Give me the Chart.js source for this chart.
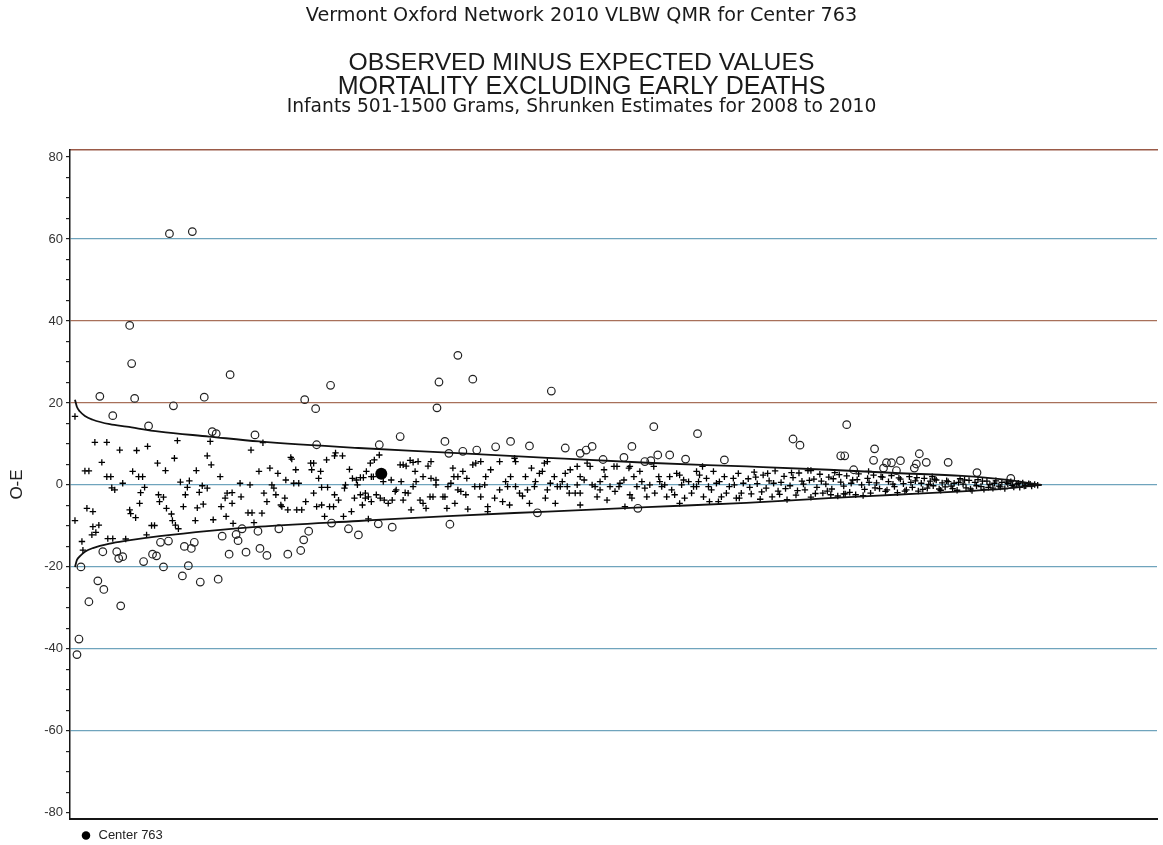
<!DOCTYPE html>
<html>
<head>
<meta charset="utf-8">
<title>Observed minus expected values</title>
<script src="https://cdn.jsdelivr.net/npm/chart.js@4.4.1/dist/chart.umd.min.js"></script>
<style>
  html, body { margin: 0; padding: 0; background: #fff; }
  #wrap { position: relative; width: 1163px; height: 845px; }
</style>
</head>
<body>
<div id="wrap"><canvas id="oeChart"></canvas></div>
<script>
// header text
const titleLines = [
  "Vermont Oxford Network 2010 VLBW QMR for Center 763",
  "OBSERVED MINUS EXPECTED VALUES",
  "MORTALITY EXCLUDING EARLY DEATHS",
  "Infants 501-1500 Grams, Shrunken Estimates for 2008 to 2010",
];
const yAxisTitle = "O-E";
const yLabelTicks = [80, 60, 40, 20, 0, -20, -40, -60, -80];

// our center
const centerX = [31.3];
const centerY = [2.7];

// 99% limits (funnel)
const funnelX = [0.5, 0.7, 1.0, 1.5, 2.3, 4.0, 5.7, 9.0, 14.0, 19.0, 29.0, 38.0, 48.0, 58.0, 68.0, 76.3, 83.0, 89.7, 94.0, 97.7];
const funnelUpper = [20.8, 19.0, 17.9, 16.8, 15.9, 14.8, 14.2, 13.0, 11.8, 10.6, 9.0, 7.9, 6.6, 5.4, 4.5, 3.7, 2.9, 2.2, 1.3, 0];
const funnelLower = [-20.0, -18.3, -17.4, -16.3, -15.4, -14.3, -13.6, -12.5, -11.2, -10.2, -8.8, -7.6, -6.5, -5.4, -4.4, -3.2, -2.4, -1.6, -0.9, 0];

// centers outside the limits (open circles)
const outsidePts = [
  [10.0,61.3],[12.3,61.8],[6.0,38.9],[6.2,29.6],[6.5,21.1],[3.0,21.6],[4.3,16.9],[7.9,14.4],[10.4,19.3],[13.5,21.4],
  [16.1,26.9],[14.3,13.0],[14.7,12.5],[18.6,12.2],[23.6,20.8],[24.7,18.6],[26.2,24.3],[24.8,9.8],[31.1,9.8],[33.2,11.8],
  [39.0,31.6],[37.1,25.1],[40.5,25.8],[36.9,18.8],[48.4,22.9],[37.7,10.6],[38.1,7.7],[39.5,8.2],[40.9,8.5],[42.8,9.3],
  [44.3,10.6],[46.2,9.5],[49.8,9.0],[51.3,7.7],[51.9,8.5],[52.5,9.4],[53.6,6.2],[55.7,6.7],[56.5,9.4],[58.7,14.2],
  [57.8,5.7],[58.4,5.9],[59.1,7.3],[60.3,7.3],[61.9,6.3],[63.1,12.5],[65.8,6.1],[72.7,11.2],[73.4,9.7],[78.1,14.7],
  [77.5,7.1],[77.9,7.1],[80.9,8.8],[80.8,6.0],[82.1,5.4],[82.6,5.4],[83.5,5.9],[85.4,7.6],[85.1,5.1],[84.9,4.1],
  [86.1,5.5],[88.3,5.5],[91.2,3.0],[94.6,1.6],[78.8,3.7],[81.8,4.1],[83.1,3.5],
  [1.1,-20.0],[0.7,-41.4],[0.9,-37.6],[1.9,-28.5],[2.8,-23.4],[3.4,-25.5],[3.3,-16.3],[4.7,-16.3],[4.9,-17.9],
  [5.3,-17.5],[5.1,-29.5],[7.4,-18.7],[8.3,-16.9],[8.7,-17.3],[9.1,-14.0],[9.9,-13.7],[9.4,-20.0],[11.3,-22.2],[11.5,-15.0],
  [12.2,-15.5],[12.5,-14.0],[11.9,-19.7],[13.1,-23.7],[14.9,-23.0],[15.3,-12.5],[16.0,-16.9],[16.7,-12.1],[16.9,-13.6],[17.3,-10.7],
  [17.7,-16.4],[18.9,-11.3],[19.1,-15.5],[19.8,-17.2],[21.0,-10.7],[21.9,-16.9],[23.2,-16.0],[23.5,-13.4],[24.0,-11.3],[26.3,-9.3],
  [28.0,-10.7],[29.0,-12.2],[31.0,-9.5],[32.4,-10.3],[38.2,-9.6],[47.0,-6.8],[57.1,-5.7],
];

// centers within the limits (crosses)
const insidePts = [
  [0.5,16.7],[0.5,-8.7],[1.2,-13.8],[1.3,-15.9],[1.5,3.4],[1.9,3.4],[1.7,-5.7],[2.3,-6.5],[2.2,-12.2],[2.3,-10.2],
  [2.9,-9.8],[2.6,-11.6],[2.5,10.4],[3.7,10.4],[3.2,5.5],[3.7,2.0],[4.1,2.0],[3.8,-13.1],[4.3,-13.1],[4.2,-0.7],
  [4.5,-1.2],[5.0,8.5],[5.3,0.4],[5.6,-13.2],[6.0,-6.1],[6.1,-7.0],[6.3,3.3],[6.6,-8.0],[6.7,8.4],[6.9,2.0],
  [7.3,2.0],[7.0,-4.5],[7.1,-1.9],[7.5,-0.6],[7.7,-12.2],[7.8,9.4],[8.2,-9.9],[8.5,-9.9],[8.8,5.3],[8.9,-2.4],
  [9.4,-3.0],[9.0,-4.1],[9.6,3.5],[9.7,-5.7],[10.2,-7.1],[10.3,-8.7],[10.6,-9.8],[10.5,6.5],[10.8,10.8],[10.9,-10.7],
  [11.1,0.7],[12.0,1.0],[11.4,-5.3],[11.6,-2.4],[11.8,-0.6],[12.6,-8.7],[12.7,3.5],[12.8,-5.6],[13.4,-4.7],[13.0,-1.8],
  [13.3,-0.2],[13.8,-0.8],[13.8,7.1],[14.1,10.6],[14.2,4.9],[14.4,-8.5],[15.1,2.0],[15.2,-5.3],[15.6,-3.2],[15.8,-2.0],
  [16.3,-1.9],[15.7,-7.7],[16.3,-4.5],[16.4,-9.4],[17.2,-2.9],[17.1,0.4],[18.1,0.0],[17.9,-6.8],[18.3,-6.8],[18.2,8.5],
  [18.5,-9.2],[19.0,3.3],[19.3,-6.9],[19.4,10.3],[19.5,-2.0],[19.8,-4.1],[20.1,4.1],[20.3,0.0],[20.5,-0.8],[20.7,-2.4],
  [20.9,2.8],[21.2,-4.9],[21.3,-5.3],[21.9,-6.1],[21.7,1.2],[21.6,-3.2],[22.2,6.7],[22.3,6.3],[22.5,0.4],[23.0,0.4],
  [22.7,3.7],[22.8,-6.1],[23.3,-6.1],[23.7,-4.1],[24.2,5.3],[24.5,5.3],[24.3,3.7],[24.5,-2.0],[24.8,-5.3],[25.2,3.3],
  [25.0,1.6],[25.3,-4.9],[25.3,-0.6],[25.9,-0.6],[25.6,-7.7],[25.8,6.1],[26.1,-5.3],[26.5,-5.3],[26.6,7.1],[26.7,7.8],
  [26.6,-2.4],[27.0,-3.7],[27.4,7.1],[27.5,-7.7],[27.6,-0.8],[27.7,0.0],[28.1,3.8],[28.3,-6.5],[28.4,1.6],[28.8,1.2],
  [28.6,-3.2],[28.9,0.0],[29.2,-2.4],[29.4,-4.9],[29.7,-3.2],[29.8,3.3],[30.0,-8.3],[30.3,-4.1],[30.3,2.0],[30.2,5.3],
  [30.6,6.1],[30.8,-2.4],[31.1,7.3],[31.6,-3.7],[32.0,-4.5],[32.4,-3.7],[32.3,1.2],[32.8,-1.2],[33.2,4.9],[33.5,4.9],
  [33.3,0.8],[33.7,-1.9],[30.5,2.0],[29.2,1.8],[29.5,1.8],[29.7,-2.0],[30.0,-2.9],[31.2,-3.2],[31.5,0.8],[32.7,-1.6],
  [33.5,-3.7],
  [33.8,4.6],[34.2,6.0],[34.5,5.5],[35.0,5.7],[34.7,3.3],[36.0,4.6],[34.0,-2.0],[34.5,-0.4],[34.8,0.8],[36.2,-2.9],
  [36.5,-2.9],[36.8,0.0],[37.5,-2.9],[37.7,-2.9],[35.8,-5.7],[34.3,-6.1],[37.9,-5.7],[38.5,4.1],[38.6,2.0],[39.0,-1.2],
  [39.3,-1.6],[39.5,3.3],[39.9,1.6],[39.8,-2.4],[40.0,-5.9],[40.5,4.9],[40.8,5.3],[40.7,-0.4],[41.2,-0.4],[41.3,5.7],
  [41.8,2.0],[42.0,-5.3],[42.7,-3.2],[43.2,5.7],[43.8,0.8],[44.0,-0.4],[44.2,-4.9],[44.7,6.5],[44.8,5.7],[45.2,-2.0],
  [45.5,-2.7],[45.8,2.0],[46.2,-4.5],[46.4,4.1],[46.7,-0.4],[47.2,2.8],[47.5,3.3],[47.7,5.3],[48.0,-1.2],[48.3,0.4],
  [48.8,-4.5],[49.0,-0.4],[49.3,-0.4],[50.0,-0.4],[49.8,2.8],[50.2,-2.0],[50.8,-2.0],[51.0,0.0],[51.0,4.5],[51.3,2.0],
  [52.0,5.3],[52.3,4.5],[52.5,0.0],[52.8,-0.4],[53.0,-2.9],[53.3,0.8],[53.7,3.7],[54.0,-3.7],[54.3,-0.4],[54.7,4.5],
  [55.0,4.5],[54.8,-1.6],[55.3,0.4],[55.8,-5.3],[56.2,4.1],[56.3,-2.4],[56.7,2.0],[57.0,-0.4],[57.3,3.3],[58.0,-2.9],
  [58.3,0.0],[58.7,4.5],[59.2,2.0],[59.5,-0.4],[59.8,0.0],[60.0,-2.9],[60.5,-1.2],[61.0,2.8],[61.3,2.4],[61.5,0.0],
  [61.8,-3.2],[62.2,0.8],[62.7,-0.4],[63.0,-0.4],[63.3,2.4],[63.7,-2.9],[64.0,1.6],[64.5,-1.2],[64.7,3.3],[65.0,0.4],
  [65.5,-2.9],[65.8,2.0],[66.3,-0.4],[66.8,0.0],[67.2,2.8],[67.5,-2.0],
  [35.2,-3.7],[35.5,-4.5],[35.5,2.0],[36.3,1.6],[36.8,1.2],[38.0,-0.4],[38.3,0.4],[38.7,-4.5],[39.0,2.0],[41.3,-2.9],
  [41.7,0.0],[42.3,3.7],[43.2,-1.2],[43.5,-4.1],[44.3,2.0],[44.8,-0.4],[46.0,-1.2],[46.8,0.8],[47.8,-3.2],[48.7,2.0],
  [49.5,0.8],[50.3,3.7],[51.3,-2.0],[51.7,1.2],[53.3,-1.2],[53.8,2.0],[55.2,-0.4],[55.7,1.2],[56.5,-3.2],[57.5,0.8],
  [57.8,-0.8],[58.8,-2.0],[59.3,0.8],[60.3,2.0],[60.8,-2.4],[61.7,1.2],[62.5,-2.0],[63.2,0.8],[64.2,-0.4],[65.3,0.8],
  [66.0,-2.0],[66.7,1.6],[67.7,0.4],[42.0,-6.5],[51.3,-4.9],[61.3,-4.5],[36.3,5.7],[48.0,5.7],[56.3,4.5],[63.0,3.3],
  [64.3,-4.1],[65.2,-4.1],[67.0,-3.2],[67.3,-3.2],[63.6,4.5],[76.5,-2.4],[77.8,-2.2],[74.5,3.5],[80.3,3.3],[86.7,2.0],
  [68.2,1.5],[68.5,-2.2],[68.8,3.1],[69.1,0.3],[69.4,-3.5],[69.7,2.4],[70.0,-0.8],[70.3,1.0],[70.6,-2.9],[70.9,3.4],
  [71.2,-1.5],[71.5,0.6],[71.8,2.1],[72.1,-3.6],[72.4,-0.2],[72.7,1.8],[73.0,-2.5],[73.3,2.9],[73.6,0.9],[73.9,-1.2],
  [74.2,3.5],[74.5,-3.0],[74.8,1.4],[75.1,-0.6],[75.4,2.6],[75.7,-2.0],[76.0,0.2],[76.3,1.9],[76.6,-1.0],[76.9,3.0],
  [77.2,-2.7],[77.5,0.7],[77.8,-0.3],[78.1,2.2],[78.4,-1.8],[78.7,1.2],[79.0,-2.4],[79.3,2.7],[79.6,0.0],[79.9,-1.1],
  [80.2,1.6],[80.5,-2.0],[80.8,2.4],[81.1,0.5],[81.4,-0.9],[81.7,1.9],[82.0,-1.6],[82.3,0.8],[82.6,2.3],[82.9,-0.4],
  [83.2,-1.9],[83.5,1.4],[83.8,0.3],[84.1,-1.2],[84.4,2.0],[84.7,-0.6],[85.0,1.0],[85.3,-1.5],[85.6,0.4],[85.9,1.6],
  [86.2,-0.8],[86.5,0.9],[86.8,-0.2],[87.1,1.2],[87.4,-1.0],[87.7,0.5],[88.0,-0.5],[88.3,0.8],[88.6,-0.3],[88.9,0.4],
  [89.2,-1.3],[89.5,1.5],[89.8,0.2],[90.1,-0.7],[90.4,1.1],[90.7,-1.4],[91.0,0.6],[91.3,1.3],[91.6,-0.4],[91.9,-1.1],
  [92.2,0.9],[92.5,0.1],[92.8,-0.8],[93.1,1.0],[93.4,-0.3],[93.7,0.6],[94.0,-0.9],[94.3,0.3],[94.6,0.8],[94.9,-0.5],
  [95.2,0.2],[95.5,-0.6],[95.8,0.5],[96.1,-0.2],[96.4,0.3],[96.7,-0.3],[97.0,0.1],[97.3,-0.1],
  [68.35,-0.6],[68.95,1.9],[69.55,-1.7],[70.15,2.8],[70.75,0.4],[71.35,-2.3],[71.95,-0.9],[72.55,3.0],[73.15,-1.4],[73.75,0.2],
  [74.35,1.1],[74.95,-2.1],[75.55,0.9],[76.15,-1.5],[76.75,1.5],[77.35,2.5],[77.95,-2.2],[78.55,0.4],[79.15,1.3],[79.75,-2.6],
  [80.35,0.6],[80.95,-0.7],[81.55,2.0],[82.15,-1.2],[82.75,0.2],[83.35,1.7],[83.95,-1.5],[84.55,0.6],[85.15,1.8],[85.75,-1.1],
  [86.35,0.1],[86.95,1.4],[87.55,-1.3],[88.15,1.0],[88.75,-0.9],[89.35,0.6],[89.95,1.2],[90.55,-1.0],[91.15,-0.2],[91.75,0.9],
  [92.35,-0.6],[92.95,0.4],[93.55,-0.5],[94.15,0.7],[94.75,-0.1],[95.35,0.4],[95.95,-0.3],[96.55,0.2],
];

function toXY(pairs) {
  return pairs.map((p) => ({ x: p[0], y: p[1] }));
}

// gridline colour by tick value
const BLUE = "#6fa4bd";
const BROWN = "#a8705a";
const gridColours = { "60": BLUE, "40": BROWN, "20": BROWN, "0": BLUE, "-20": BLUE, "-40": BLUE, "-60": BLUE };

// header drawn above the plot
const headerPlugin = {
  id: "header",
  afterDraw(chart) {
    const ctx = chart.ctx;
    const cx = chart.width / 2;
    // [family, target width, center y]
    const spec = [
      ['"DejaVu Sans"', 552, 16],
      ['"Liberation Sans", Arial', 466, 63],
      ['"Liberation Sans", Arial', 488, 87],
      ['"DejaVu Sans"', 590, 107],
    ];
    ctx.save();
    ctx.fillStyle = "#1a1a1a";
    ctx.textAlign = "center";
    ctx.textBaseline = "middle";
    titleLines.forEach((t, i) => {
      const [fam, w, y] = spec[i];
      ctx.font = "20px " + fam;
      const size = (20 * w) / ctx.measureText(t).width;
      ctx.font = size.toFixed(2) + "px " + fam;
      ctx.fillText(t, cx, y);
    });
    ctx.restore();
  },
};

const ctx = document.getElementById("oeChart").getContext("2d");
new Chart(ctx, {
  type: "scatter",
  data: {
    datasets: [
      {
        label: "Center 763",
        data: centerX.map((x, i) => ({ x: x, y: centerY[i] })),
        pointStyle: "circle",
        pointRadius: 6,
        backgroundColor: "#000",
        borderColor: "#000",
        borderWidth: 0,
      },
      {
        label: "Upper limit",
        data: funnelX.map((x, i) => ({ x: x, y: funnelUpper[i] })),
        showLine: true,
        pointRadius: 0,
        borderColor: "#111",
        borderWidth: 1.8,
        cubicInterpolationMode: "monotone",
        fill: false,
      },
      {
        label: "Lower limit",
        data: funnelX.map((x, i) => ({ x: x, y: funnelLower[i] })),
        showLine: true,
        pointRadius: 0,
        borderColor: "#111",
        borderWidth: 1.8,
        cubicInterpolationMode: "monotone",
        fill: false,
      },
      {
        label: "Outside limits",
        data: toXY(outsidePts),
        pointStyle: "circle",
        pointRadius: 3.8,
        borderWidth: 1.2,
        borderColor: "#222",
        backgroundColor: "rgba(0,0,0,0)",
      },
      {
        label: "Within limits",
        data: toXY(insidePts),
        pointStyle: "cross",
        pointRadius: 3.2,
        borderWidth: 1.3,
        borderColor: "#000",
      },
    ],
  },
  options: {
    responsive: true,
    maintainAspectRatio: false,
    animation: false,
    events: [],
    layout: { padding: { top: 150, right: 0, bottom: -7, left: 0 } },
    plugins: {
      tooltip: { enabled: false },
      legend: {
        position: "bottom",
        align: "start",
        fullSize: false,
        labels: {
          usePointStyle: true,
          boxWidth: 12,
          boxHeight: 6,
          padding: 10,
          color: "#222",
          font: { size: 13, family: '"Liberation Sans", Arial' },
          filter: (item) => item.text === "Center 763",
        },
      },
    },
    scales: {
      x: {
        type: "linear",
        position: "bottom",
        min: 0,
        max: 109.3,
        ticks: { display: false },
        grid: { display: false, drawTicks: false },
        border: { display: true, color: "#151515", width: 2 },
      },
      xTop: {
        type: "linear",
        position: "top",
        min: 0,
        max: 109.3,
        ticks: { display: false },
        grid: { display: false, drawTicks: false },
        border: { display: true, color: "#9a5a48", width: 1.5 },
      },
      y: {
        min: -81.5,
        max: 81.7,
        afterBuildTicks: (scale) => {
          const t = [];
          for (let v = -80; v <= 80; v += 5) t.push({ value: v });
          scale.ticks = t;
        },
        afterFit: (scale) => {
          scale.width = 70;
        },
        ticks: {
          padding: 3,
          color: "#333",
          font: { size: 13, family: '"Liberation Sans", Arial' },
          autoSkip: false,
          callback: (v) => (yLabelTicks.includes(v) ? String(v) : ""),
        },
        grid: {
          tickLength: 4,
          tickColor: "#222",
          lineWidth: 1.2,
          color: (c) => {
            const v = c.tick ? c.tick.value : null;
            return gridColours[String(v)] || "rgba(0,0,0,0)";
          },
        },
        border: { display: true, color: "#151515", width: 1.5 },
        title: {
          display: true,
          text: yAxisTitle,
          color: "#222",
          font: { size: 17, family: '"Liberation Sans", Arial' },
          padding: { top: 7, bottom: 0 },
        },
      },
    },
  },
  plugins: [headerPlugin],
});
</script>
</body>
</html>
